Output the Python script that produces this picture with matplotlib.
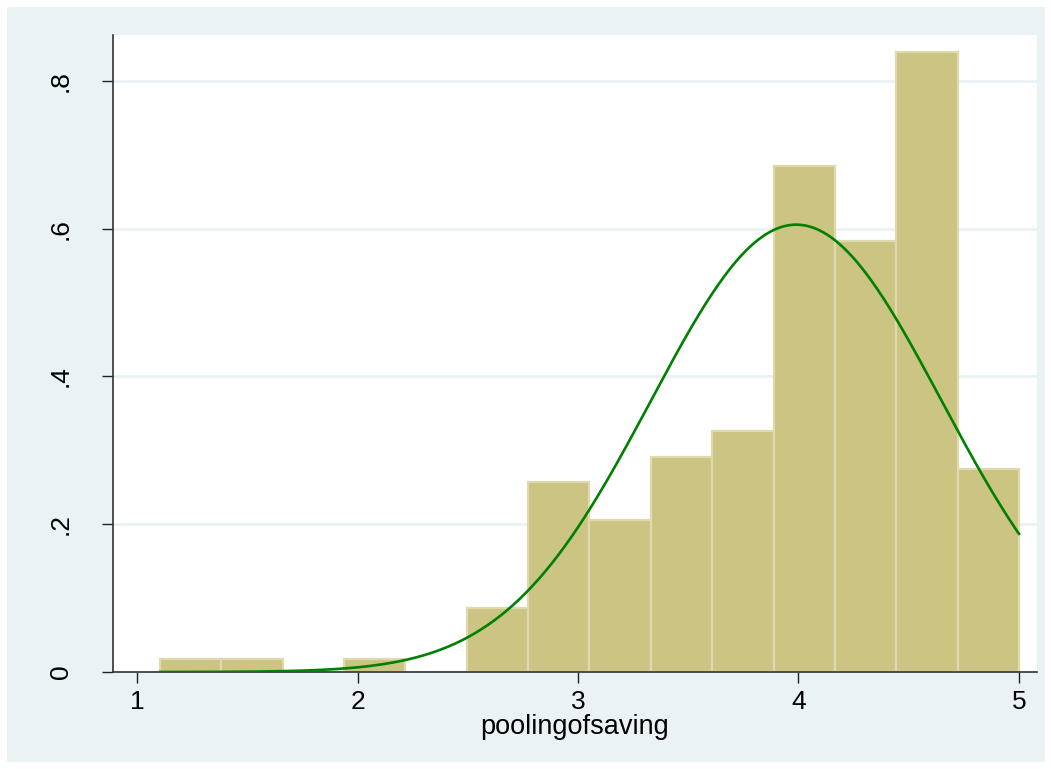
import numpy as np
import matplotlib.pyplot as plt
from matplotlib.patches import Rectangle

plt.rcParams['font.family'] = ['Liberation Sans', 'DejaVu Sans']

# histogram of poolingofsaving (density), 14 bins from 1.104 to 5
bin_start = 1.104
bin_end = 5.0
densities = [0.0176, 0.0176, 0.0, 0.0176, 0.0, 0.0866, 0.257, 0.206,
             0.291, 0.326, 0.685, 0.583, 0.839, 0.275]
# normal overlay parameters
mu = 3.99
sd = 0.659

W, H = 1051, 769
fig = plt.figure(figsize=(W / 100, H / 100), dpi=100)
fig.patch.set_facecolor('white')
bg = '#EAF2F3'
fig.add_artist(Rectangle((7 / W, 7 / H), (1045 - 7) / W, (762 - 7) / H,
                         transform=fig.transFigure, facecolor=bg,
                         edgecolor='none', zorder=-10))

ax = fig.add_axes([113 / W, 1 - 672 / H, (1037 - 113) / W, (672 - 35) / H])
ax.set_zorder(5)
ax.set_facecolor('white')

nb = len(densities)
edges = np.linspace(bin_start, bin_end, nb + 1)
width = edges[1] - edges[0]
ax.bar(edges[:-1], densities, width=width, align='edge', color='#CBC482',
       edgecolor='#DEDAAE', linewidth=1.6, zorder=2)

xs = np.linspace(bin_start, bin_end, 400)
ys = np.exp(-(xs - mu) ** 2 / (2 * sd ** 2)) / (sd * np.sqrt(2 * np.pi))
ax.plot(xs, ys, color='#008000', linewidth=1.9, zorder=3)

ax.set_xlim(0.891, 5.082)
ax.set_ylim(0, 0.862)
ax.set_xticks([1, 2, 3, 4, 5])
ax.set_xticklabels(['1', '2', '3', '4', '5'])
ax.set_yticks([0, 0.2, 0.4, 0.6, 0.8])
ax.set_yticklabels(['0', '.2', '.4', '.6', '.8'], rotation=90, va='center')
ax.tick_params(axis='both', labelsize=19, length=8, width=1, color='#222222',
               direction='out')
ax.tick_params(axis='x', pad=5)
ax.tick_params(axis='y', pad=21)
ax.yaxis.grid(True, color=bg, linewidth=2, zorder=1)
ax.set_axisbelow(True)
for s in ['top', 'right']:
    ax.spines[s].set_visible(False)
for s in ['left', 'bottom']:
    ax.spines[s].set_color('#333333')
    ax.spines[s].set_linewidth(1.2)

ax.set_xlabel('poolingofsaving', fontsize=19.5, labelpad=0)

fig.savefig('out.png', dpi=100)
